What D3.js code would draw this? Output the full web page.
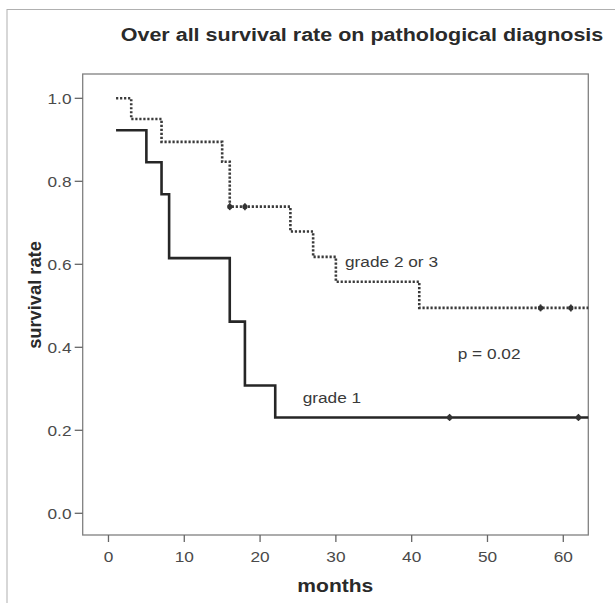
<!DOCTYPE html>
<html>
<head>
<meta charset="utf-8">
<script src="https://cdn.jsdelivr.net/npm/d3@7"></script>
<style>
  body { margin: 0; background: #fff; }
  svg { display: block; }
  text { font-family: "Liberation Sans", Arial, sans-serif; }
</style>
</head>
<body>
<svg></svg>
<script>
const width = 615;
const height = 603;

// Kaplan-Meier steps
const grade1Times = [1, 5, 7, 8, 16, 18, 22, 63.3];
const grade1Surv = [0.923, 0.846, 0.769, 0.615, 0.462, 0.308, 0.231, 0.231];
const grade1Censored = [45, 62];

const grade23Times = [1, 3, 7, 15, 16, 24, 27, 30, 41, 63.3];
const grade23Surv = [1.0, 0.95, 0.895, 0.847, 0.739, 0.679, 0.618, 0.558, 0.495, 0.495];
const grade23Censored = [16, 18, 57, 61];

const xTicks = [0, 10, 20, 30, 40, 50, 60];
const yTicks = [0, 0.2, 0.4, 0.6, 0.8, 1.0];

// the source picture is a bit wider than tall, text gets stretched too
const sx = 1.15;

const svg = d3.select("svg")
    .attr("width", width)
    .attr("height", height)
    .attr("viewBox", [0, 0, width, height]);

const x = d3.scaleLinear().domain([-3.4, 63.3]).range([82.7, 588.3]);
const y = d3.scaleLinear().domain([-0.0523, 1.0586]).range([535, 74]);

// outer frame
svg.append("rect")
    .attr("x", 7).attr("y", 9.5)
    .attr("width", 640).attr("height", 640)
    .attr("fill", "none")
    .attr("stroke", "#b0b0b0")
    .attr("stroke-width", 1);

function label(txt, px, py, opts) {
    return svg.append("text")
        .attr("transform", `translate(${px},${py}) scale(${sx},1)`)
        .attr("text-anchor", opts.anchor || "start")
        .attr("font-size", opts.size)
        .attr("font-weight", opts.weight || "normal")
        .attr("fill", opts.fill || "#333")
        .text(txt);
}

label("Over all survival rate on pathological diagnosis", 362, 40.7,
    { anchor: "middle", size: 18.7, weight: "bold", fill: "#2a2a2a" });

// plot box
svg.append("rect")
    .attr("x", x.range()[0]).attr("y", y.range()[1])
    .attr("width", x.range()[1] - x.range()[0])
    .attr("height", y.range()[0] - y.range()[1])
    .attr("fill", "none")
    .attr("stroke", "#808080")
    .attr("stroke-width", 1.3);

// y axis
const yAxis = svg.append("g").attr("class", "y-axis");
yAxis.selectAll("line")
    .data(yTicks)
    .join("line")
    .attr("x1", x.range()[0] - 8).attr("x2", x.range()[0])
    .attr("y1", d => y(d)).attr("y2", d => y(d))
    .attr("stroke", "#666").attr("stroke-width", 1.3);
yTicks.forEach(d => {
    label(d3.format(".1f")(d), 71.5, y(d) + 5.3, { anchor: "end", size: 15, fill: "#4a4a4a" });
});

// x axis
const xAxis = svg.append("g").attr("class", "x-axis");
xAxis.selectAll("line")
    .data(xTicks)
    .join("line")
    .attr("x1", d => x(d)).attr("x2", d => x(d))
    .attr("y1", y.range()[0]).attr("y2", y.range()[0] + 7)
    .attr("stroke", "#666").attr("stroke-width", 1.3);
xTicks.forEach(d => {
    label(String(d), x(d), 562, { anchor: "middle", size: 15, fill: "#4a4a4a" });
});

label("months", 335.3, 591.7, { anchor: "middle", size: 18.3, weight: "bold", fill: "#2a2a2a" });

svg.append("text")
    .attr("transform", "translate(40.5,295) rotate(-90)")
    .attr("text-anchor", "middle")
    .attr("font-size", 18.3)
    .attr("font-weight", "bold")
    .attr("fill", "#2a2a2a")
    .text("survival rate");

// step curves
const line = d3.line()
    .x(d => x(d[0]))
    .y(d => y(d[1]))
    .curve(d3.curveStepAfter);

const g1 = d3.zip(grade1Times, grade1Surv);
const g23 = d3.zip(grade23Times, grade23Surv);

svg.append("path")
    .datum(g23)
    .attr("d", line)
    .attr("fill", "none")
    .attr("stroke", "#3a3a3a")
    .attr("stroke-width", 2.6)
    .attr("stroke-dasharray", "2.2,1.8");

svg.append("path")
    .datum(g1)
    .attr("d", line)
    .attr("fill", "none")
    .attr("stroke", "#262626")
    .attr("stroke-width", 2.6);

function survAt(times, surv, t) {
    let v = surv[0];
    for (let i = 0; i < times.length; i++) if (times[i] <= t) v = surv[i];
    return v;
}

function censorMarks(cls, times, surv, cens) {
    const g = svg.append("g").attr("class", cls);
    g.selectAll("line")
        .data(cens)
        .join("line")
        .attr("x1", d => x(d)).attr("x2", d => x(d))
        .attr("y1", d => y(survAt(times, surv, d)) - 3.5)
        .attr("y2", d => y(survAt(times, surv, d)) + 3.5)
        .attr("stroke", "#333").attr("stroke-width", 1.6);
    g.selectAll("circle")
        .data(cens)
        .join("circle")
        .attr("cx", d => x(d))
        .attr("cy", d => y(survAt(times, surv, d)))
        .attr("r", 2.6)
        .attr("fill", "#333");
}
censorMarks("cens1", grade1Times, grade1Surv, grade1Censored);
censorMarks("cens23", grade23Times, grade23Surv, grade23Censored);

label("grade 2 or 3", 345, 267.3, { size: 15, fill: "#3a3a3a" });
label("grade 1", 302.7, 402.7, { size: 15, fill: "#3a3a3a" });
label("p = 0.02", 457.7, 359, { size: 15, fill: "#3a3a3a" });
</script>
</body>
</html>
